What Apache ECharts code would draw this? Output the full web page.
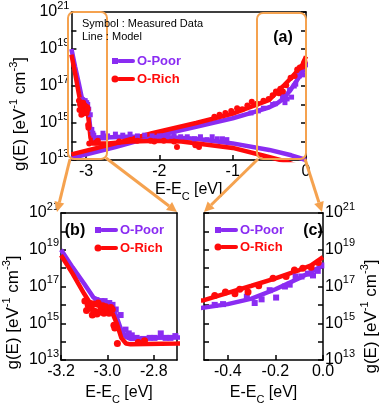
<!DOCTYPE html>
<html><head><meta charset="utf-8">
<script src="https://cdn.jsdelivr.net/npm/echarts@6.0.0/dist/echarts.min.js"></script>
<style>html,body{margin:0;padding:0;background:#fff}#c{width:382px;height:406px}</style>
</head><body><div id="c"></div>
<script>
// ---------- DATA (E - Ec in eV, g(E) in eV^-1 cm^-3) ----------
// Model lines: deep (valence-side) branch
const poorDeepModelE = [-3.2,-3.15,-3.1,-3.06,-3.03,-3.0,-2.98,-2.96,-2.94,-2.92,-2.9,-2.8,-2.5,-2.0,-1.5,-1.0,-0.5,-0.2,0];
const poorDeepModelG = [1.0e19,1.1e18,1.4e17,2.5e16,1.6e16,1.1e16,7.1e15,2.2e15,4.0e14,1.8e14,1.4e14,1.6e14,1.8e14,1.8e14,1.4e14,7.9e13,3.5e13,1.8e13,1.0e13];
const richDeepModelE = [-3.2,-3.15,-3.1,-3.08,-3.05,-3.0,-2.98,-2.96,-2.94,-2.92,-2.9,-2.7,-2.4,-2.0,-1.7,-1.4,-1.0,-0.6,-0.3,0];
const richDeepModelG = [5.0e18,5.0e17,4.0e16,1.6e16,1.0e16,6.3e15,4.0e15,1.0e15,1.6e14,7.9e13,7.1e13,7.9e13,1.0e14,1.1e14,1.0e14,7.1e13,4.5e13,1.8e13,8.9e12,3.2e12];
// Model lines: shallow (conduction-side) branch
const poorShallowModelE = [-3.2,-2.6,-2.1,-1.5,-1.0,-0.7,-0.5,-0.4,-0.3,-0.2,-0.1,-0.05,0];
const poorShallowModelG = [1.26e13,5.0e13,1.8e14,6.3e14,1.8e15,4.0e15,7.1e15,1.1e16,2.2e16,7.1e16,2.8e17,6.3e17,1.4e18];
const richShallowModelE = [-3.2,-2.6,-2.1,-1.5,-1.0,-0.7,-0.5,-0.4,-0.3,-0.2,-0.1,-0.05,0];
const richShallowModelG = [2.0e13,7.9e13,2.8e14,1.0e15,3.2e15,8.9e15,1.8e16,4.5e16,1.1e17,2.8e17,7.9e17,1.4e18,4.0e18];
// Measured data: deep branch
const poorDeepDataE = [-3.047,-3.026,-3.012,-2.992,-2.978,-2.964,-2.943,-2.922,-2.908,-2.895,-2.874,-2.846,-2.818,-2.797,-2.77,-2.749,-2.728,-2.707,-2.6,-2.5,-2.4,-2.3,-2.2,-2.1,-2.0,-1.9,-1.8,-1.71,-1.62,-1.52,-1.44,-1.35,-1.28,-1.21,-1.14,-1.08];
const poorDeepDataG = [1.8e16,1.6e16,1.6e16,1.26e16,1.0e16,5.6e15,2.8e15,4.5e14,2.8e14,2.2e14,1.6e14,1.4e14,1.6e14,1.6e14,2.8e14,1.6e14,1.6e14,2.0e14,2.5e14,2.2e14,2.5e14,2.0e14,2.2e14,2.0e14,2.0e14,1.8e14,2.0e14,1.8e14,1.8e14,1.4e14,1.8e14,1.26e14,1.8e14,1.4e14,1.4e14,1.26e14];
const richDeepDataE = [-3.097,-3.09,-3.083,-3.07,-3.065,-3.06,-3.055,-3.045,-3.04,-3.035,-3.028,-3.02,-3.015,-3.007,-3.0,-2.993,-2.985,-2.979,-2.972,-2.968,-2.957,-2.867,-2.84,-2.55,-2.3,-2.12,-2.07,-1.94,-1.8,-1.76,-1.51,-1.46];
const richDeepDataG = [1.6e16,5.0e15,1.0e16,6.3e15,2.8e15,1.1e16,4.5e15,3.2e15,1.26e16,4.0e15,5.6e15,8.9e15,3.5e15,7.9e15,5.0e15,3.5e15,7.1e15,5.6e15,7.9e14,5.6e14,7.9e13,8.9e13,1.1e14,1.0e14,1.1e14,1.1e14,1.0e14,1.1e14,1.0e14,5.0e13,6.3e13,5.0e13];
// Measured data: shallow branch
const poorShallowDataE = [-0.75,-0.65,-0.58,-0.455,-0.42,-0.32,-0.287,-0.258,-0.224,-0.197,-0.16,-0.14,-0.115,-0.09,-0.063,-0.042,-0.022,-0.007];
const poorShallowDataG = [3.5e15,4.5e15,6.3e15,1.0e16,1.1e16,2.8e16,1.26e16,2.0e16,6.3e16,2.5e16,1.0e17,1.26e17,3.5e17,3.5e17,5.0e17,4.0e17,7.1e17,1.4e18];
const richShallowDataE = [-1.25,-1.18,-1.1,-1.02,-0.94,-0.87,-0.8,-0.74,-0.67,-0.58,-0.51,-0.455,-0.41,-0.37,-0.35,-0.315,-0.27,-0.21,-0.155,-0.12,-0.085,-0.05,-0.02];
const richShallowDataG = [2.2e15,2.8e15,3.5e15,4.5e15,6.3e15,5.6e15,8.9e15,1.4e16,1.1e16,1.6e16,2.0e16,3.2e16,5.0e16,4.0e16,7.1e16,5.0e16,1.1e17,2.8e17,3.5e17,7.9e17,1.0e18,1.1e18,2.0e18];
// Tick positions
const ticksA = [-3,-2,-1,0];
const ticksB = [-3.2,-3.0,-2.8];
const ticksC = [-0.4,-0.2,0.0];
const seriesNames = ['O-Poor','O-Rich'];

// ---------- STYLE ----------
const PURPLE = '#8a2cf2', RED = '#ff0a0a', ORANGE = '#f5a24f';
const FONT = 'Liberation Sans, Arial, sans-serif';
const zip = (a,b) => a.map((x,i)=>[x,b[i]]);

const supRich = {
  b:{fontSize:16,fontFamily:FONT,color:'#000',lineHeight:24},
  s:{fontSize:11,fontFamily:FONT,color:'#000',verticalAlign:'top',lineHeight:12}
};
const nameRich = {
  n:{fontSize:17,fontFamily:FONT,color:'#000',lineHeight:24},
  s:{fontSize:11,fontFamily:FONT,color:'#000',verticalAlign:'top',lineHeight:12},
  sub:{fontSize:11,fontFamily:FONT,color:'#000',verticalAlign:'bottom',lineHeight:10}
};
const xNameRich = {
  n:{fontSize:16,fontFamily:FONT,color:'#000',lineHeight:24},
  sub:{fontSize:11,fontFamily:FONT,color:'#000',verticalAlign:'bottom',lineHeight:10}
};
const yName = '{n|g(E) [eV}{s|-1}{n| cm}{s|-3}{n|]}';
const xName = '{n|E-E}{sub|C}{n| [eV]}';
const lineSt = {color:'#000',width:1.5};

function yAx(grid, pos, opts){
  return Object.assign({
    type:'log', logBase:10, min:1e13, max:1e21, interval:1, splitNumber:8, gridIndex:grid, position:pos,
    axisLine:{show:true,onZero:false,lineStyle:lineSt},
    axisTick:{show:true,inside:true,length:5,lineStyle:lineSt},
    minorTick:{show:false}, splitLine:{show:false},
    axisLabel:{show:false}
  }, opts||{});
}
function yLabels(){
  return {show:true, margin:2, formatter:v=>{const e=Math.round(Math.log10(v)); return (e%2===0)? '' : '{b|10}{s|'+e+'}';}, rich:supRich};
}
function xAx(grid, pos, min, max, ticks, fmt, opts){
  const ax = {
    type:'value', min:min, max:max, gridIndex:grid, position:pos,
    axisLine:{show:true,onZero:false,lineStyle:lineSt},
    splitLine:{show:false},
    axisTick:{show:false}, axisLabel:{show:false}
  };
  if (ticks){
    ax.axisTick = {show:true,inside:true,length:5,lineStyle:lineSt,customValues:ticks};
    ax.axisLabel = {show:true,margin:4,fontSize:16,fontFamily:FONT,color:'#000',customValues:ticks,formatter:fmt};
    ax.name = xName; ax.nameLocation='middle'; ax.nameTextStyle={rich:xNameRich};
  }
  return Object.assign(ax, opts||{});
}

const grids = [
  {left:70, top:11, width:236, height:149},
  {left:57, top:213, width:120, height:147},
  {left:204, top:213, width:119, height:147}
];
const xAxes = [
  xAx(0,'bottom',-3.2,0,ticksA,v=>String(v),{nameGap:18,axisLine:{show:true,onZero:false,lineStyle:{color:'#333',width:2}}}),
  xAx(0,'top',-3.2,0,null),
  xAx(1,'bottom',-3.2,-2.7,ticksB,v=>v.toFixed(1),{nameGap:21}),
  xAx(1,'top',-3.2,-2.7,null),
  xAx(2,'bottom',-0.5,0,ticksC,v=>v.toFixed(1),{nameGap:21}),
  xAx(2,'top',-0.5,0,null)
];
const yAxes = [
  yAx(0,'left',{axisLabel:yLabels(),name:yName,nameLocation:'middle',nameRotate:90,nameGap:38,nameTextStyle:{rich:nameRich,padding:[0,56,0,0]}}),
  yAx(0,'right'),
  yAx(1,'left',{axisLabel:yLabels(),name:yName,nameLocation:'middle',nameRotate:90,nameGap:36,nameTextStyle:{rich:nameRich,padding:[0,52,0,0]}}),
  yAx(1,'right',{axisTick:{show:false}}),
  yAx(2,'left'),
  yAx(2,'right',{axisLabel:yLabels(),name:yName,nameLocation:'middle',nameRotate:90,nameGap:36,nameTextStyle:{rich:nameRich,padding:[0,60,0,0]}})
];

function lineS(name,xi,yi,E,G,color){
  return {name:name,type:'line',xAxisIndex:xi,yAxisIndex:yi,data:zip(E,G),showSymbol:false,symbol:'none',
    lineStyle:{color:color,width:4.5},itemStyle:{color:color},clip:true,z:3,silent:true};
}
function scatS(name,xi,yi,E,G,color,sym,size){
  return {name:name,type:'scatter',xAxisIndex:xi,yAxisIndex:yi,data:zip(E,G),symbol:sym,symbolSize:size,
    itemStyle:{color:color,opacity:1},clip:true,z:4,silent:true};
}
const series = [];
// panel (a)
series.push(scatS(seriesNames[0],0,0,poorDeepDataE,poorDeepDataG,PURPLE,'rect',5));
series.push(scatS(seriesNames[0],0,0,poorShallowDataE,poorShallowDataG,PURPLE,'rect',5));
series.push(lineS(seriesNames[0],0,0,poorDeepModelE,poorDeepModelG,PURPLE));
series.push(lineS(seriesNames[0],0,0,poorShallowModelE,poorShallowModelG,PURPLE));
series.push(lineS(seriesNames[1],0,0,richDeepModelE,richDeepModelG,RED));
series.push(lineS(seriesNames[1],0,0,richShallowModelE,richShallowModelG,RED));
series.push(scatS(seriesNames[1],0,0,richDeepDataE,richDeepDataG,RED,'circle',6));
series.push(scatS(seriesNames[1],0,0,richShallowDataE,richShallowDataG,RED,'circle',6));
// panel (b)
series.push(scatS(seriesNames[0],2,2,poorDeepDataE,poorDeepDataG,PURPLE,'rect',6));
series.push(lineS(seriesNames[0],2,2,poorDeepModelE,poorDeepModelG,PURPLE));
series.push(lineS(seriesNames[1],2,2,richDeepModelE,richDeepModelG,RED));
series.push(scatS(seriesNames[1],2,2,richDeepDataE,richDeepDataG,RED,'circle',7));
// panel (c)
series.push(scatS(seriesNames[0],4,5,poorShallowDataE,poorShallowDataG,PURPLE,'rect',6));
series.push(lineS(seriesNames[0],4,5,poorShallowModelE,poorShallowModelG,PURPLE));
series.push(lineS(seriesNames[1],4,5,richShallowModelE,richShallowModelG,RED));
series.push(scatS(seriesNames[1],4,5,richShallowDataE,richShallowDataG,RED,'circle',7));

// ---------- DECORATION ----------
function arrow(x1,y1,x2,y2){
  const dx=x2-x1, dy=y2-y1, L=Math.hypot(dx,dy), ux=dx/L, uy=dy/L, hl=10, hw=5;
  const bx=x2-ux*hl, by=y2-uy*hl;
  return [
    {type:'line',z:100,shape:{x1:x1,y1:y1,x2:bx,y2:by},style:{stroke:ORANGE,lineWidth:3}},
    {type:'polygon',z:100,shape:{points:[[x2,y2],[bx-uy*hw,by+ux*hw],[bx+uy*hw,by-ux*hw]]},style:{fill:ORANGE}}
  ];
}
function legendBlock(x, y1, y2, textX){
  return [
    {type:'rect',z:100,shape:{x:x-3,y:y1-3,width:6,height:6},style:{fill:PURPLE}},
    {type:'line',z:100,shape:{x1:x+4,y1:y1,x2:textX-4,y2:y1},style:{stroke:PURPLE,lineWidth:4,lineCap:'round'}},
    {type:'text',z:100,x:textX,y:y1,style:{text:seriesNames[0],fill:PURPLE,font:'bold 13px '+FONT,verticalAlign:'middle',align:'left'}},
    {type:'circle',z:100,shape:{cx:x,cy:y2,r:3.5},style:{fill:RED}},
    {type:'line',z:100,shape:{x1:x+4,y1:y2,x2:textX-4,y2:y2},style:{stroke:RED,lineWidth:4,lineCap:'round'}},
    {type:'text',z:100,x:textX,y:y2,style:{text:seriesNames[1],fill:RED,font:'bold 13px '+FONT,verticalAlign:'middle',align:'left'}}
  ];
}
const graphic = [].concat(
  [{type:'rect',z:100,shape:{x:68,y:12,width:39,height:147,r:6},style:{fill:'none',stroke:ORANGE,lineWidth:2}},
   {type:'rect',z:100,shape:{x:257,y:13,width:49,height:146,r:6},style:{fill:'none',stroke:ORANGE,lineWidth:2}}],
  arrow(70,159,57,212), arrow(106,158,177,212), arrow(258,159,204,212), arrow(305,159,322,212),
  [{type:'text',z:100,x:82,y:24,style:{text:'Symbol : Measured Data',fill:'#000',font:'11px '+FONT,verticalAlign:'middle'}},
   {type:'text',z:100,x:82,y:37,style:{text:'Line : Model',fill:'#000',font:'11px '+FONT,verticalAlign:'middle'}},
   {type:'text',z:100,x:283,y:38,style:{text:'(a)',fill:'#000',font:'bold 16px '+FONT,verticalAlign:'middle',align:'center'}},
   {type:'text',z:100,x:75,y:231,style:{text:'(b)',fill:'#000',font:'bold 16px '+FONT,verticalAlign:'middle',align:'center'}},
   {type:'text',z:100,x:313,y:231,style:{text:'(c)',fill:'#000',font:'bold 16px '+FONT,verticalAlign:'middle',align:'center'}}],
  legendBlock(115,61,79,137), legendBlock(98,230,248,120), legendBlock(218,230,247,240)
);

const chart = echarts.init(document.getElementById('c'), null, {renderer:'canvas'});
chart.setOption({
  animation:false, backgroundColor:'#fff',
  grid:grids, xAxis:xAxes, yAxis:yAxes, series:series, graphic:graphic
});
</script></body></html>
